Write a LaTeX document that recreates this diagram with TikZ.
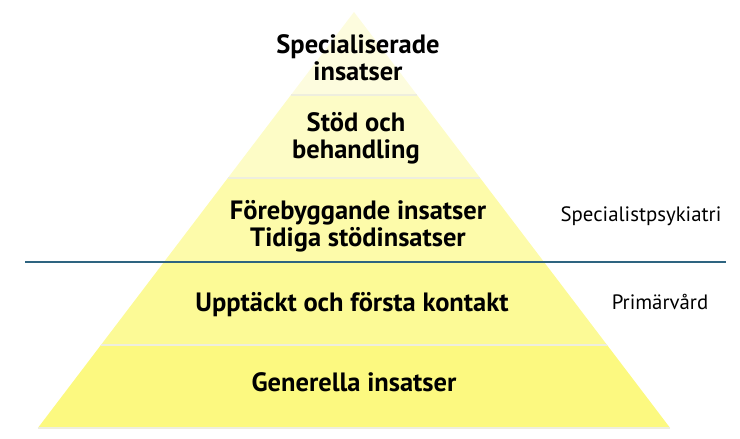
\documentclass[tikz,border=0pt]{standalone}
\usepackage{fontspec}
\setmainfont{PT Sans}
\begin{document}
\begin{tikzpicture}[x=1pt,y=-1pt,
  lvltext/.style={inner sep=0, outer sep=0, align=center, font=\fontsize{26.5pt}{27pt}\bfseries\selectfont},
  sidetext/.style={inner sep=0, outer sep=0, font=\fontsize{20.8pt}{22pt}\selectfont},
  sepline/.style={line width=1.5pt, custcol_sep}]
\useasboundingbox (0,0) rectangle (740,439);
\definecolor{custcol_l1}{RGB}{253, 252, 222}
\definecolor{custcol_l2}{RGB}{253, 252, 198}
\definecolor{custcol_l3}{RGB}{253, 251, 170}
\definecolor{custcol_l4}{RGB}{252, 250, 150}
\definecolor{custcol_l5}{RGB}{252, 249, 128}
\definecolor{custcol_sep}{RGB}{238, 238, 222}
\definecolor{custcol_blue}{RGB}{46, 100, 128}
% pyramid layers, apex at (354,12), base 38--670 at y=428
\foreach \ya/\yb/\col in {12/95/custcol_l1, 95/178/custcol_l2, 178/262/custcol_l3, 262/345/custcol_l4, 345/428/custcol_l5}
  \fill [\col] ({354-(\ya-12)*0.76},\ya) -- ({354+(\ya-12)*0.76},\ya) -- ({354+(\yb-12)*0.76},\yb) -- ({354-(\yb-12)*0.76},\yb) -- cycle;
\foreach \ya in {95,178,345,428}
  \draw [sepline] ({354-(\ya-12)*0.76},\ya) -- ({354+(\ya-12)*0.76},\ya);
% divider between care levels
\coordinate (divL) at (25,262);
\coordinate (divR) at (726,262);
\draw [line width=1.3pt, custcol_blue] (divL) -- (divR);
\node[lvltext] (spec) at (358,58) {Specialiserade\\insatser};
\node[lvltext] (stod) at (356,138) {Stöd och\\behandling};
\node[lvltext] (foreb) at (358,226) {Förebyggande insatser\\Tidiga stödinsatser};
\node[lvltext] (uppt) at (352,305) {Upptäckt och första kontakt};
\node[lvltext] (gen) at (354,382) {Generella insatser};
\node[sidetext] (psyk) at (641,216) {Specialistpsykiatri};
\node[sidetext] (prim) at (660,302) {Primärvård};
\end{tikzpicture}
\end{document}
